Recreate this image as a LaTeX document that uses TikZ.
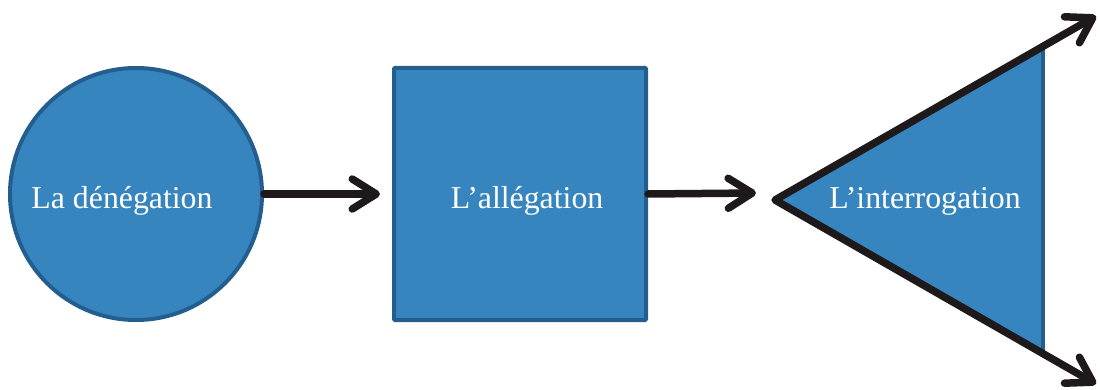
\documentclass[tikz,border=0pt]{standalone}
\usepackage{fontspec}
\setmainfont{Liberation Serif}
\usetikzlibrary{arrows.meta}
\definecolor{blockfill}{RGB}{55,133,190}
\definecolor{blockline}{RGB}{36,94,142}
\definecolor{flowline}{RGB}{30,26,27}
\begin{document}
\begin{tikzpicture}[x=1pt,y=-1pt,
    blockshape/.style={draw=blockline,fill=blockfill,line width=4pt,inner sep=0pt,minimum size=252pt},
    blocktext/.style={anchor=base,text=white,inner sep=0pt,font=\fontsize{31.8}{36}\selectfont},
    flow/.style={draw=flowline,line width=7.5pt,line cap=round,line join=round},
    barb/.tip={Straight Barb[length=24pt,width=30pt,round]}]
        \useasboundingbox (0,0) rectangle (1100,390);

        \node[blockshape,circle]                      (neg)   at  ( 136,194) {};
        \node[blockshape,rectangle,rounded corners=1pt] (alleg) at  ( 520,194) {};
        \coordinate (tl) at ( 775,200);
        \coordinate (tt) at (1043, 45);
        \coordinate (tb) at (1043,355);
        \coordinate (a1) at ( 380,194);
        \coordinate (a2) at ( 756,193);
        \coordinate (up) at (1096, 16);
        \coordinate (dn) at (1096,384);

        \fill[blockfill] (tl) -- (tt) -- (tb) -- cycle;
        \draw[blockline,line width=4pt] (tt) -- (tb);

        \node[blocktext] (negtxt)   at ( 122,208) {La dénégation};
        \node[blocktext] (allegtxt) at ( 527,208) {L’allégation};
        \node[blocktext] (intertxt) at ( 925,208) {L’interrogation};

        \draw[flow,-barb]     (neg.east) to (a1);
        \draw[flow,-barb]     (alleg.east) to (a2);
        \draw[flow,barb-barb] (up) -- (tl) -- (dn);
      \end{tikzpicture}
\end{document}
